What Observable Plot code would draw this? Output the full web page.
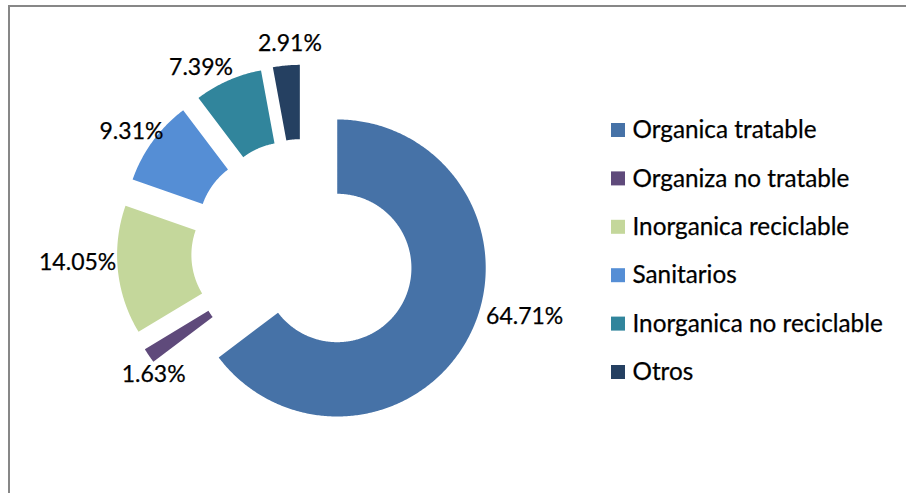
<!DOCTYPE html>
<html><head><meta charset="utf-8">
<script src="https://cdn.jsdelivr.net/npm/d3@7"></script>
<script src="https://cdn.jsdelivr.net/npm/@observablehq/plot@0.6"></script>
<style>
body{margin:0;background:#fff;}
#wrap{position:relative;width:906px;height:493px;overflow:hidden;background:#fff;}
#border{position:absolute;left:8px;top:5px;width:1000px;height:600px;border-left:2px solid #878787;border-top:2px solid #878787;}
#chart{position:absolute;left:0;top:0;}
</style></head><body>
<div id="wrap"><div id="border"></div><div id="chart"></div></div>
<script>
// ---- data ----
const categories = ["Organica tratable", "Organiza no tratable", "Inorganica reciclable", "Sanitarios", "Inorganica no reciclable", "Otros"];
const values = [64.71, 1.63, 14.05, 9.31, 7.39, 2.91];
const valueLabels = ["64.71%", "1.63%", "14.05%", "9.31%", "7.39%", "2.91%"];
const colors = ["#4672A7", "#5F4A7B", "#C4D79B", "#558ED5", "#31859C", "#254061"];

// ---- layout ----
const W = 906, H = 493;
const cx = 302.8, cy = 250.6, R = 148.5, R0 = 74.2, explode = 37.9;
const labelGap = 11.5, labelW = 72, labelH = 20;
const labelNudge = [[12, -27], [44, 7], [7, -10], [17, 3], [-8, 7], [8, 0]];
const legendX = 611, legendY0 = 130, legendStep = 48.4, legendBox = 14;

const rows = categories.map((name, i) => ({name, value: values[i], label: valueLabels[i], i}));
const arcs = d3.pie().sort(null).value(d => d.value).startAngle(0).endAngle(2 * Math.PI)(rows);

const polys = [];
const labelPts = [];
for (const a of arcs) {
  const mid = (a.startAngle + a.endAngle) / 2;
  const ux = Math.sin(mid), uy = -Math.cos(mid);
  const ox = cx + explode * ux, oy = cy + explode * uy;
  const n = Math.max(4, Math.ceil((a.endAngle - a.startAngle) / 0.01));
  for (let k = 0; k <= n; k++) {
    const t = a.startAngle + (a.endAngle - a.startAngle) * k / n;
    polys.push({name: a.data.name, x: ox + R * Math.sin(t), y: oy - R * Math.cos(t)});
  }
  for (let k = n; k >= 0; k--) {
    const t = a.startAngle + (a.endAngle - a.startAngle) * k / n;
    polys.push({name: a.data.name, x: ox + R0 * Math.sin(t), y: oy - R0 * Math.cos(t)});
  }
  const dist = R + explode + labelGap;
  const nd = labelNudge[a.data.i];
  labelPts.push({
    label: a.data.label,
    x: cx + dist * ux + ux * labelW / 2 + nd[0],
    y: cy + dist * uy + uy * labelH / 2 + nd[1]
  });
}

const legendRows = categories.map((name, i) => ({name, y: legendY0 + i * legendStep}));

const chart = Plot.plot({
  width: W, height: H, margin: 0,
  x: {domain: [0, W], range: [0, W], axis: null},
  y: {domain: [0, H], range: [0, H], axis: null},
  color: {domain: categories, range: colors},
  style: {background: "transparent", fontFamily: "Lato, sans-serif"},
  marks: [
    Plot.line(polys, {x: "x", y: "y", z: "name", fill: "name", stroke: "none", curve: "linear-closed"}),
    Plot.text(labelPts, {x: "x", y: "y", text: "label", fontSize: 23, fill: "#000", stroke: "#000", strokeWidth: 0.25, textAnchor: "middle"}),
    Plot.rect(legendRows, {x1: () => legendX, x2: () => legendX + legendBox, y1: d => d.y - legendBox / 2, y2: d => d.y + legendBox / 2, fill: "name"}),
    Plot.text(legendRows, {x: () => legendX + legendBox + 7, y: "y", text: "name", fontSize: 24.3, fill: "#000", stroke: "#000", strokeWidth: 0.25, textAnchor: "start"})
  ]
});
document.getElementById("chart").appendChild(chart);
</script>
</body></html>
